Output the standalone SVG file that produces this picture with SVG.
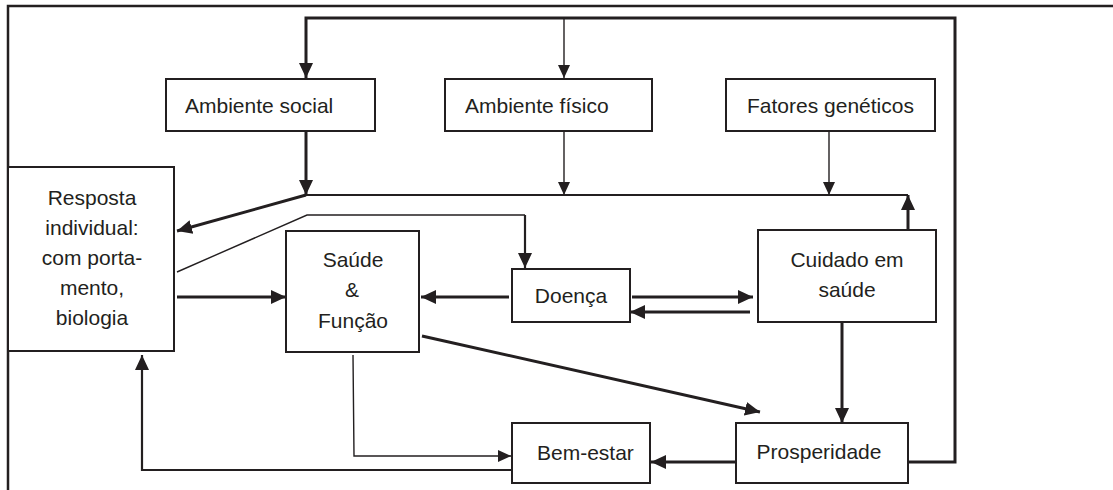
<svg xmlns="http://www.w3.org/2000/svg" width="1113" height="490" viewBox="0 0 1113 490">
<style>
.box{fill:#fff;stroke:#231f20;stroke-width:2}
.t{font-family:"Liberation Sans",Arial,sans-serif;font-size:21px;fill:#231f20}
.m{text-anchor:middle}
.c{fill:none;stroke:#231f20}
.w3{stroke-width:3}
.w2{stroke-width:2.2}
.w1{stroke-width:1.4}
</style>
<defs>
<marker id="ah" markerUnits="userSpaceOnUse" markerWidth="16" markerHeight="16" viewBox="0 0 16 16" refX="15" refY="8" orient="auto">
<path d="M0,1 L15,8 L0,15 z" fill="#231f20"/>
</marker>
<marker id="as" markerUnits="userSpaceOnUse" markerWidth="14" markerHeight="14" viewBox="0 0 14 14" refX="13" refY="7" orient="auto">
<path d="M0,1 L13,7 L0,13 z" fill="#231f20"/>
</marker>
</defs>
<rect width="1113" height="490" fill="#fff"/>
<path class="c" stroke-width="2.5" d="M8,490 L8,6 L1113,6"/>
<g id="connectors">
<path class="c w3" d="M908,462 L955,462 L955,18 L306,18 L306,78" marker-end="url(#ah)"/>
<path class="c w1" d="M564,18 L564,78" marker-end="url(#as)"/>
<path class="c w3" d="M306,131 L306,195" marker-end="url(#ah)"/>
<path class="c w1" d="M564,131 L564,195" marker-end="url(#as)"/>
<path class="c w1" d="M829,131 L829,195" marker-end="url(#as)"/>
<path class="c w2" d="M306,195 L908,195"/>
<path class="c w3" d="M908,230 L908,195" marker-end="url(#ah)"/>
<path class="c w3" d="M306,195 L177,231" marker-end="url(#ah)"/>
<path class="c w1" d="M177,272 L307,215 L525,215"/>
<path class="c w2" d="M525,215 L525,268" marker-end="url(#ah)"/>
<path class="c w3" d="M177,297 L286,297" marker-end="url(#ah)"/>
<path class="c w3" d="M509,297 L421,297" marker-end="url(#ah)"/>
<path class="c w3" d="M632,297 L753,297" marker-end="url(#ah)"/>
<path class="c w3" d="M750,312 L630,312" marker-end="url(#ah)"/>
<path class="c w3" d="M842,322 L842,423" marker-end="url(#ah)"/>
<path class="c w3" d="M422,336 L760,412" marker-end="url(#ah)"/>
<path class="c w1" d="M353,355 L354,456 L511,456" marker-end="url(#as)"/>
<path class="c w2" d="M512,470 L142,470 L142,355" marker-end="url(#ah)"/>
<path class="c w3" d="M736,462 L651,462" marker-end="url(#ah)"/>
</g>
<g id="ambiente-social">
<rect class="box" x="166" y="79" width="209" height="52"/>
<text class="t" x="185" y="113">Ambiente social</text>
</g>
<g id="ambiente-fisico">
<rect class="box" x="445" y="79" width="207" height="52"/>
<text class="t" x="465" y="113">Ambiente físico</text>
</g>
<g id="fatores-geneticos">
<rect class="box" x="726" y="79" width="209" height="52"/>
<text class="t" x="747" y="113">Fatores genéticos</text>
</g>
<g id="resposta-individual">
<rect class="box" x="8" y="167" width="166" height="184"/>
<text class="t m" x="92" y="205">Resposta</text>
<text class="t m" x="92" y="235">individual:</text>
<text class="t m" x="92" y="265">com porta-</text>
<text class="t m" x="92" y="295">mento,</text>
<text class="t m" x="92" y="325">biologia</text>
</g>
<g id="saude-funcao">
<rect class="box" x="286" y="231" width="133" height="121"/>
<text class="t m" x="353" y="267">Saúde</text>
<text class="t m" x="352" y="297">&amp;</text>
<text class="t m" x="353" y="328">Função</text>
</g>
<g id="doenca">
<rect class="box" x="512" y="269" width="118" height="53"/>
<text class="t m" x="571" y="303">Doença</text>
</g>
<g id="cuidado-em-saude">
<rect class="box" x="758" y="230" width="178" height="92"/>
<text class="t m" x="847" y="267">Cuidado em</text>
<text class="t m" x="847" y="297">saúde</text>
</g>
<g id="prosperidade">
<rect class="box" x="736" y="423" width="172" height="60"/>
<text class="t m" x="819" y="459">Prosperidade</text>
</g>
<g id="bem-estar">
<rect class="box" x="512" y="423" width="138" height="60"/>
<text class="t" x="537" y="460">Bem-estar</text>
</g>
</svg>
